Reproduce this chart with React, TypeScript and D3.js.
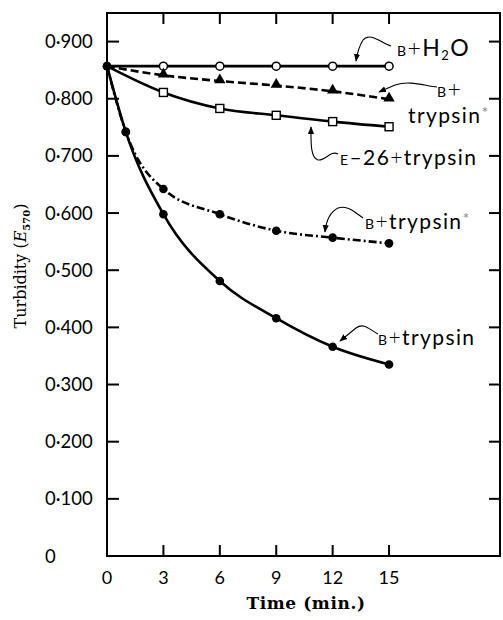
import React from "react";
import * as d3 from "d3";

const times = [0, 3, 6, 9, 12, 15];
const timesFast = [0, 1, 3, 6, 9, 12, 15];
const bH2O = [0.857, 0.857, 0.857, 0.857, 0.857, 0.857];
const bTrypsinStarTri = [0.857, 0.841, 0.831, 0.823, 0.813, 0.799];
const e26Trypsin = [0.857, 0.811, 0.783, 0.771, 0.76, 0.751];
const bTrypsinStar = [0.857, 0.742, 0.642, 0.598, 0.569, 0.557, 0.547];
const bTrypsin = [0.857, 0.742, 0.598, 0.481, 0.416, 0.366, 0.335];
const xTicks = [0, 3, 6, 9, 12, 15];
const yTicks = [0, 0.1, 0.2, 0.3, 0.4, 0.5, 0.6, 0.7, 0.8, 0.9];
const yTickLabels = ["0", "0·100", "0·200", "0·300", "0·400", "0·500", "0·600", "0·700", "0·800", "0·900"];

const W = 503, H = 620;
const L = 107, R = 500, T = 13, B = 556;

export default function App() {
  const x = d3.scaleLinear().domain([0, 20.9]).range([L, R]);
  const y = d3.scaleLinear().domain([0, 0.95]).range([B, T]);
  const line = d3.line<[number, number]>().x(d => x(d[0])).y(d => y(d[1])).curve(d3.curveMonotoneX);
  const pts = (ts: number[], vs: number[]) => ts.map((t, i) => [t, vs[i]] as [number, number]);

  const sans = "Lato, 'Open Sans', sans-serif";
  const ink = "#000";
  const tri = d3.symbol().type(d3.symbolTriangle).size(55)();

  return (
    <svg width={W} height={H} style={{ position: "absolute", left: 0, top: 0, background: "#fff" }} fontFamily={sans}>
      <defs>
        <marker id="ah" viewBox="0 0 10 10" refX="9" refY="5" markerWidth="7" markerHeight="7" orient="auto">
          <path d="M0,1 L10,5 L0,9 z" fill={ink} />
        </marker>
      </defs>
      {/* frame */}
      <rect x={L} y={T} width={R - L} height={B - T} fill="none" stroke={ink} strokeWidth={2} />
      {xTicks.map(t => (
        <g key={"xt" + t}>
          {t > 0 && <line x1={x(t)} x2={x(t)} y1={B} y2={B - 11} stroke={ink} strokeWidth={2} />}
          {t > 0 && <line x1={x(t)} x2={x(t)} y1={T} y2={T + 11} stroke={ink} strokeWidth={2} />}
          <text x={x(t)} y={584} textAnchor="middle" fontSize={18} fill={ink}>{t}</text>
        </g>
      ))}
      {yTicks.map((v, i) => (
        <g key={"yt" + i}>
          {v > 0 && <line x1={L} x2={L + 12} y1={y(v)} y2={y(v)} stroke={ink} strokeWidth={2} />}
          {v > 0 && <line x1={R} x2={R - 11} y1={y(v)} y2={y(v)} stroke={ink} strokeWidth={2} />}
          <text x={45} y={y(v) + 6.5} fontSize={18.5} fill={ink}>{yTickLabels[i]}</text>
        </g>
      ))}
      <text x={306} y={609} textAnchor="middle" fontFamily="'DejaVu Serif', serif" fontWeight="bold" fontSize={17} letterSpacing={0.6} fill={ink}>Time (min.)</text>
      <text transform="translate(26,266) rotate(-90)" textAnchor="middle" fontFamily="'DejaVu Serif', serif" fontSize={16} fill={ink}>
        Turbidity (<tspan fontStyle="italic">E</tspan><tspan fontSize={10} dy={4} fontWeight="bold">570</tspan><tspan dy={-4}>)</tspan>
      </text>

      {/* lines */}
      <path d={line(pts(times, bH2O)) || ""} fill="none" stroke={ink} strokeWidth={2.6} />
      <path d={line(pts(times, bTrypsinStarTri)) || ""} fill="none" stroke={ink} strokeWidth={2.6} strokeDasharray="8,4" />
      <path d={line(pts(times, e26Trypsin)) || ""} fill="none" stroke={ink} strokeWidth={2.6} />
      <path d={line(pts(timesFast, bTrypsinStar)) || ""} fill="none" stroke={ink} strokeWidth={2.6} strokeDasharray="8,3,2,3" />
      <path d={line(pts(timesFast, bTrypsin)) || ""} fill="none" stroke={ink} strokeWidth={2.6} />

      {/* markers */}
      {pts(times, bH2O).slice(1).map((d, i) => (
        <circle key={"h" + i} cx={x(d[0])} cy={y(d[1])} r={4} fill="#fff" stroke={ink} strokeWidth={1.5} />
      ))}
      {pts(times, bTrypsinStarTri).slice(1).map((d, i) => (
        <path key={"t" + i} d={tri || ""} transform={`translate(${x(d[0])},${y(d[1]) - 1})`} fill={ink} />
      ))}
      {pts(times, e26Trypsin).slice(1).map((d, i) => (
        <rect key={"s" + i} x={x(d[0]) - 4} y={y(d[1]) - 4} width={8} height={8} fill="#fff" stroke={ink} strokeWidth={1.4} />
      ))}
      {pts(timesFast, bTrypsinStar).map((d, i) => (
        <circle key={"d" + i} cx={x(d[0])} cy={y(d[1])} r={4.3} fill={ink} />
      ))}
      {pts(timesFast, bTrypsin).map((d, i) => (
        <circle key={"b" + i} cx={x(d[0])} cy={y(d[1])} r={4.3} fill={ink} />
      ))}

      {/* annotations */}
      <g fill="none" stroke={ink} strokeWidth={1.1} markerEnd="url(#ah)">
        <path d="M391,46 C380,42 370,32 363,40 Q358,48 356,61" />
        <path d="M437,87 C425,86 410,80 395,85 L379,92" />
        <path d="M338,154 C330,150 326,161 318,160 C310,158 311,140 311,127" />
        <path d="M363,218 C355,212 348,205 338,208 C330,212 326,222 325,232" />
        <path d="M378,334 C370,330 364,322 356,328 L340,341" />
      </g>
      <g fill={ink} fontFamily={sans} letterSpacing={1.4}>
        <text x={397} y={56} fontSize={23}><tspan fontSize={14}>B</tspan><tspan fontWeight={300}>+</tspan>H<tspan fontSize={13} dy={4}>2</tspan><tspan dy={-4}>O</tspan></text>
        <text x={437} y={97} fontSize={23}><tspan fontSize={14}>B</tspan><tspan fontWeight={300}>+</tspan></text>
        <text x={408} y={123} fontSize={21}>trypsin<tspan fontSize={16} dy={-5} fill="#888">*</tspan></text>
        <text x={340} y={165} fontSize={21}><tspan fontSize={14}>E</tspan>–26<tspan fontWeight={300}>+</tspan>trypsin</text>
        <text x={365} y={229} fontSize={21}><tspan fontSize={14}>B</tspan><tspan fontWeight={300}>+</tspan>trypsin<tspan fontSize={16} dy={-5} fill="#888">*</tspan></text>
        <text x={378} y={345} fontSize={21}><tspan fontSize={14}>B</tspan><tspan fontWeight={300}>+</tspan>trypsin</text>
      </g>
    </svg>
  );
}
